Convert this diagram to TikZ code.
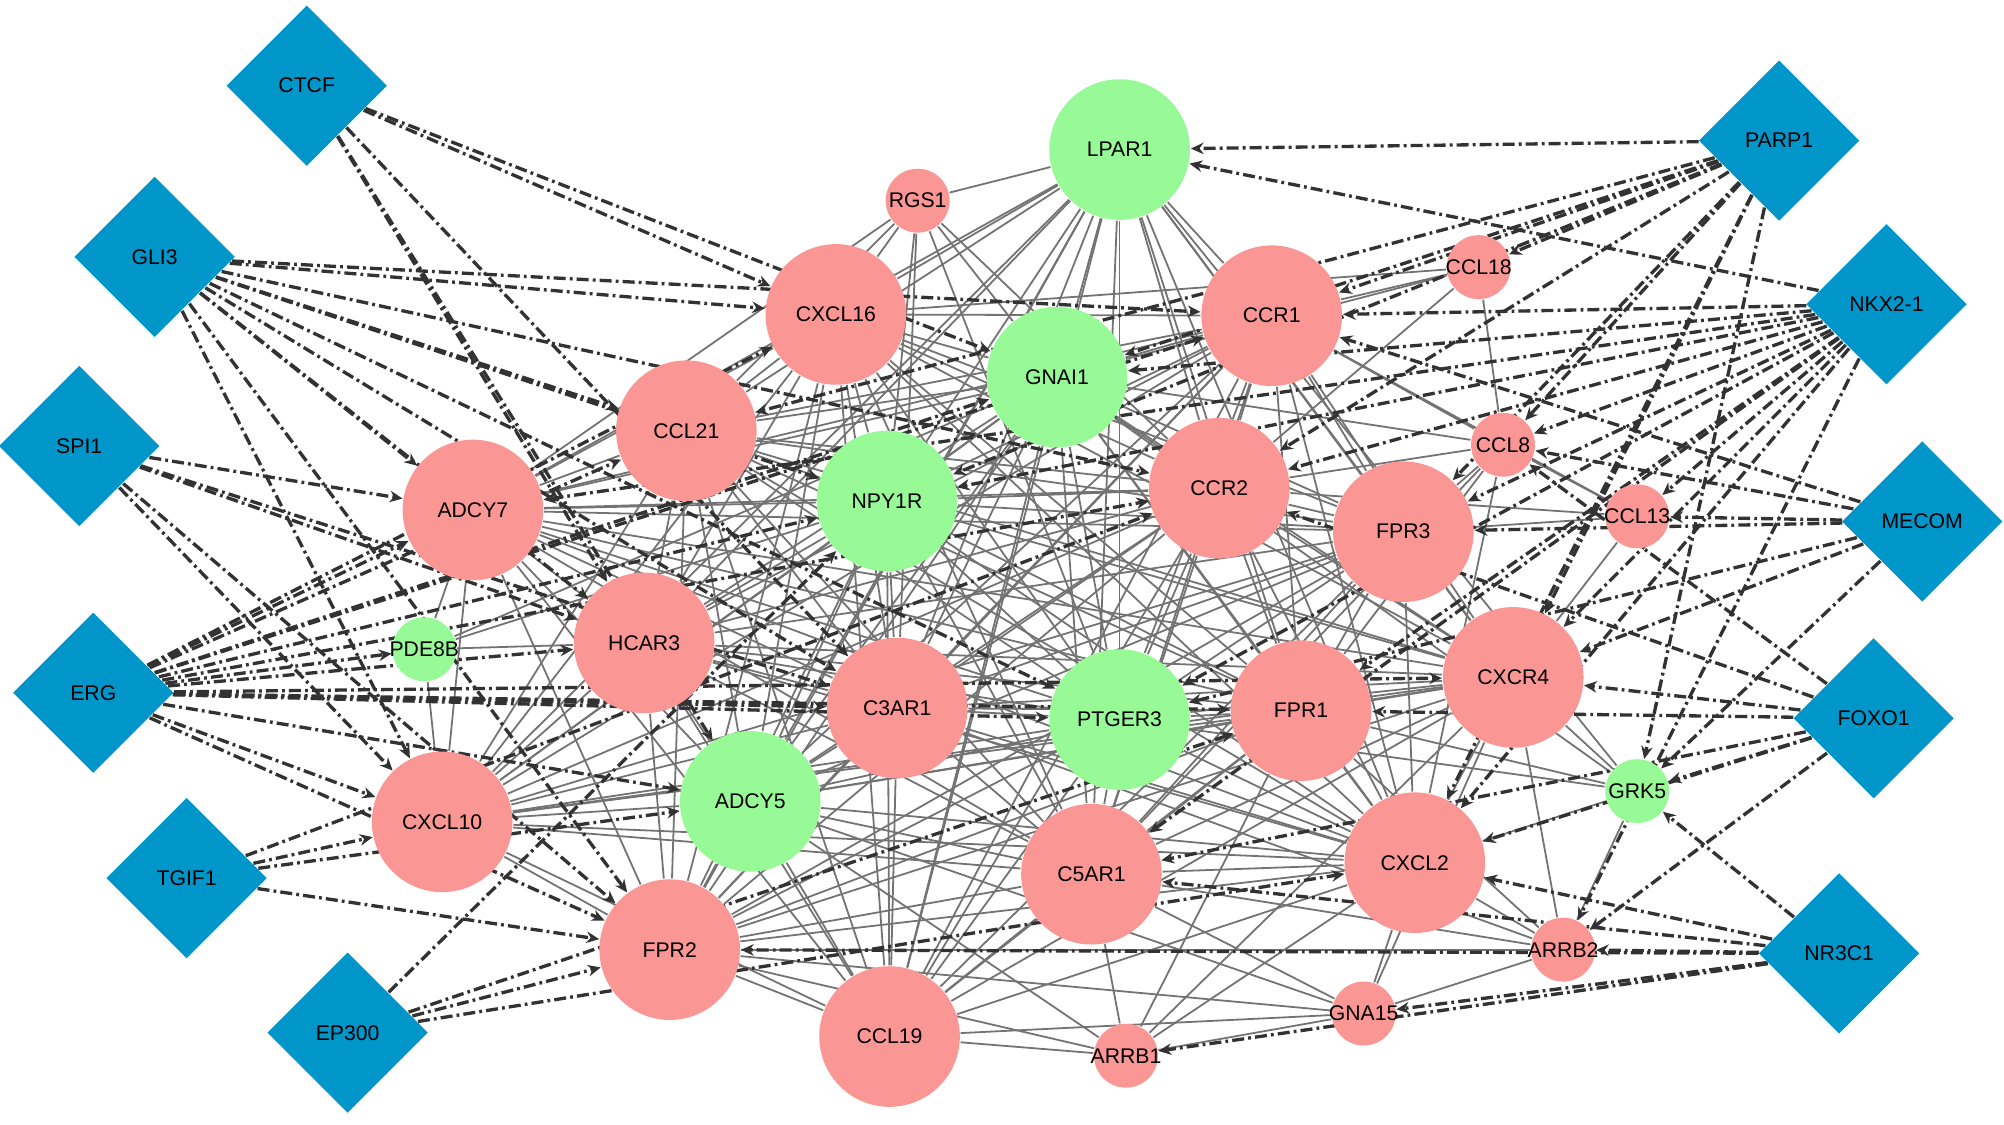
\documentclass[tikz,border=0pt]{standalone}
\usepackage{fontspec}
\setmainfont{Liberation Sans}
\usetikzlibrary{shapes.geometric,arrows.meta}

\definecolor{genered}{RGB}{250,150,148}
\definecolor{genegreen}{RGB}{152,250,150}
\definecolor{tfblue}{RGB}{0,150,202}
\definecolor{regline}{RGB}{50,50,50}

\pgfdeclarelayer{background}
\pgfsetlayers{background,main}

\tikzset{every picture/.style={line width=0.75pt},
	lbl/.style={font=\fontsize{8.3}{9}\selectfont},
	bigred/.style={circle,fill=genered,minimum size=55pt,inner sep=0pt,lbl},
	biggreen/.style={circle,fill=genegreen,minimum size=55pt,inner sep=0pt,lbl},
	smallred/.style={circle,fill=genered,minimum size=25pt,inner sep=0pt,label={[lbl]center:#1}},
	smallgreen/.style={circle,fill=genegreen,minimum size=25pt,inner sep=0pt,label={[lbl]center:#1}},
	tf/.style={diamond,fill=tfblue,minimum width=63pt,minimum height=63pt,aspect=1,inner sep=0pt,lbl},
	ppi/.style={draw=black!55,line width=0.7pt},
	reg/.style={draw=regline,line width=1.3pt,dash pattern={on 4.7pt off 1.6pt on 1.1pt off 1.6pt},-{Stealth[length=5pt,width=4.5pt]}}
}

\begin{document}
\begin{tikzpicture}[x=0.5pt,y=0.5pt,yscale=-1,xscale=1]
	\useasboundingbox (0,0) rectangle (1568,880);

	% Transcription factors
	\node[tf] (ctcf) at (240,67) {CTCF};
	\node[tf] (gli3) at (121,201) {GLI3};
	\node[tf] (spi1) at (62,349) {SPI1};
	\node[tf] (erg) at (73,542) {ERG};
	\node[tf] (tgif1) at (146,687) {TGIF1};
	\node[tf] (ep300) at (272,808) {EP300};
	\node[tf] (parp1) at (1392,110) {PARP1};
	\node[tf] (nkx21) at (1476,238) {NKX2-1};
	\node[tf] (mecom) at (1504,408) {MECOM};
	\node[tf] (foxo1) at (1466,562) {FOXO1};
	\node[tf] (nr3c1) at (1439,746) {NR3C1};

	% Large genes
	\node[biggreen] (lpar1) at (876,117) {LPAR1};
	\node[bigred] (cxcl16) at (654,246) {CXCL16};
	\node[bigred] (ccr1) at (995,247) {CCR1};
	\node[biggreen] (gnai1) at (827,295) {GNAI1};
	\node[bigred] (ccl21) at (537,337) {CCL21};
	\node[bigred] (adcy7) at (370,399) {ADCY7};
	\node[biggreen] (npy1r) at (694,392) {NPY1R};
	\node[bigred] (ccr2) at (954,382) {CCR2};
	\node[bigred] (fpr3) at (1098,416) {FPR3};
	\node[bigred] (hcar3) at (504,503) {HCAR3};
	\node[bigred] (c3ar1) at (702,554) {C3AR1};
	\node[biggreen] (ptger3) at (876,563) {PTGER3};
	\node[bigred] (fpr1) at (1018,556) {FPR1};
	\node[bigred] (cxcr4) at (1184,530) {CXCR4};
	\node[biggreen] (adcy5) at (587,627) {ADCY5};
	\node[bigred] (cxcl10) at (346,643) {CXCL10};
	\node[bigred] (c5ar1) at (854,684) {C5AR1};
	\node[bigred] (cxcl2) at (1107,675) {CXCL2};
	\node[bigred] (fpr2) at (524,743) {FPR2};
	\node[bigred] (ccl19) at (696,811) {CCL19};

	% Small genes
	\node[smallred=RGS1] (rgs1) at (718,157) {};
	\node[smallred=CCL18] (ccl18) at (1157,209) {};
	\node[smallred=CCL8] (ccl8) at (1176,348) {};
	\node[smallred=CCL13] (ccl13) at (1281,404) {};
	\node[smallgreen=PDE8B] (pde8b) at (332,508) {};
	\node[smallgreen=GRK5] (grk5) at (1281,619) {};
	\node[smallred=ARRB2] (arrb2) at (1223,743) {};
	\node[smallred=GNA15] (gna15) at (1067,793) {};
	\node[smallred=ARRB1] (arrb1) at (881,826) {};

	\begin{pgfonlayer}{background}
	% Interactions between genes
	\def\hubs{lpar1,cxcl16,ccr1,gnai1,ccl21,adcy7,npy1r,ccr2,fpr3,hcar3,c3ar1,ptger3,fpr1,cxcr4,adcy5,cxcl10,c5ar1,cxcl2,fpr2,ccl19}
	\foreach \a [count=\i] in \hubs {
		\foreach \b [count=\j] in \hubs {
			\ifnum\j>\i \draw[ppi] (\a) -- (\b); \fi
		}
	}
	\foreach \a/\b in {rgs1/lpar1,rgs1/cxcl16,rgs1/gnai1,rgs1/npy1r,rgs1/ccl21,rgs1/c3ar1,rgs1/ccr2,rgs1/ptger3,rgs1/adcy7,
		ccl18/ccr1,ccl18/ccl8,ccl18/gnai1,ccl18/cxcl16,ccl18/ccr2,
		ccl8/ccr1,ccl8/ccr2,ccl8/fpr3,ccl8/fpr1,ccl8/gnai1,ccl8/c5ar1,ccl8/cxcl2,
		ccl13/ccr1,ccl13/fpr3,ccl13/ccr2,ccl13/cxcr4,ccl13/ccl8,
		pde8b/adcy7,pde8b/cxcl10,pde8b/hcar3,pde8b/npy1r,pde8b/gnai1,
		grk5/cxcr4,grk5/cxcl2,grk5/arrb2,grk5/fpr1,grk5/ptger3,grk5/gnai1,grk5/lpar1,
		arrb1/c5ar1,arrb1/fpr2,arrb1/ccl19,arrb1/cxcl2,arrb1/gna15,arrb1/cxcr4,arrb1/fpr1,arrb1/adcy5,
		gna15/cxcl2,gna15/arrb2,gna15/fpr2,gna15/c5ar1,gna15/ccl19,gna15/adcy5,gna15/cxcr4,
		arrb2/cxcl2,arrb2/cxcr4,arrb2/c5ar1,arrb2/fpr1,arrb2/fpr2,arrb2/c3ar1}
		\draw[ppi] (\a) -- (\b);

	% Regulation by transcription factors
	\foreach \t/\g in {ctcf/cxcl16,ctcf/gnai1,ctcf/hcar3,ctcf/c3ar1,ctcf/adcy5,
		gli3/cxcl16,gli3/ccr1,gli3/ccl21,gli3/ccr2,gli3/adcy7,gli3/hcar3,gli3/cxcl10,gli3/c3ar1,gli3/fpr2,gli3/ptger3,gli3/npy1r,
		spi1/adcy7,spi1/hcar3,spi1/cxcl10,spi1/fpr2,spi1/c3ar1,
		erg/ccl21,erg/cxcl16,erg/npy1r,erg/gnai1,erg/ccr2,erg/pde8b,erg/adcy7,erg/hcar3,erg/c3ar1,erg/ptger3,erg/fpr1,erg/cxcl10,erg/adcy5,erg/fpr2,erg/cxcr4,erg/ccr1,
		tgif1/cxcl10,tgif1/fpr2,tgif1/adcy5,tgif1/ccr2,
		ep300/fpr2,ep300/npy1r,ep300/cxcl2,ep300/fpr1,
		parp1/lpar1,parp1/ccr1,parp1/ccl18,parp1/gnai1,parp1/ccr2,parp1/ccl8,parp1/fpr3,parp1/cxcr4,parp1/grk5,parp1/cxcl2,parp1/npy1r,parp1/ccl21,
		nkx21/lpar1,nkx21/ccr1,nkx21/gnai1,nkx21/ccr2,nkx21/fpr3,nkx21/ccl8,nkx21/ccl13,nkx21/cxcr4,nkx21/npy1r,nkx21/adcy7,nkx21/fpr1,nkx21/cxcl2,nkx21/arrb2,nkx21/ptger3,nkx21/c5ar1,
		mecom/ccl13,mecom/ccr1,mecom/fpr3,mecom/cxcr4,mecom/ptger3,mecom/grk5,mecom/ccl8,
		foxo1/cxcr4,foxo1/grk5,foxo1/ccl8,foxo1/fpr1,foxo1/cxcl2,foxo1/arrb2,foxo1/c5ar1,foxo1/ccr2,
		nr3c1/arrb2,nr3c1/gna15,nr3c1/arrb1,nr3c1/cxcl2,nr3c1/c5ar1,nr3c1/grk5,nr3c1/fpr2}
		\draw[reg] (\t) -- (\g);
	\end{pgfonlayer}

\end{tikzpicture}
\end{document}
